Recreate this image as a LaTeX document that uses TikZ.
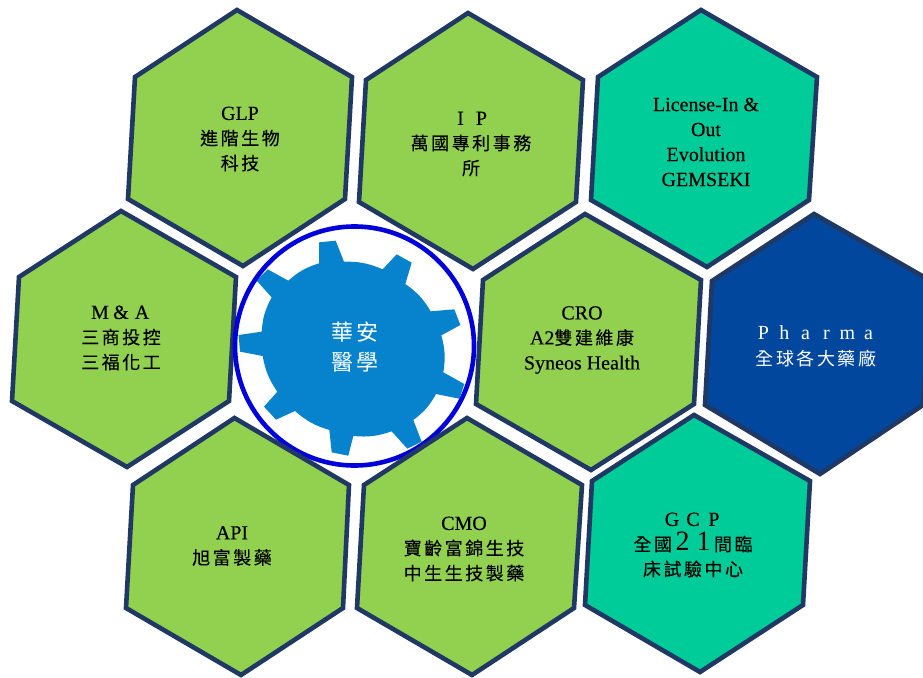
\documentclass[tikz,border=0pt]{standalone}
\usepackage{fontspec}
\setmainfont{Liberation Serif}[FakeBold=0.25]
\newfontfamily\lightmain{Liberation Serif}
\newfontfamily\cjkfont{Noto Sans CJK TC}[LetterSpace=14,FakeBold=0.2]
\newfontfamily\cjklight{Noto Sans CJK TC}[LetterSpace=14]
\newfontfamily\cjkbig{Noto Sans CJK TC}[LetterSpace=18]
\newcommand{\zh}[1]{{\fontsize{18}{25}\selectfont\cjkfont #1}}
\newcommand{\zhl}[1]{{\fontsize{18}{25}\selectfont\cjklight #1}}
\newcommand{\fw}[1]{\makebox[21pt]{#1}}
\newcommand{\bigfw}[1]{\makebox[21pt]{\fontsize{28}{25}\selectfont\lightmain #1}}
\definecolor{hexgreen}{HTML}{92D050}
\definecolor{hexteal}{HTML}{00CC99}
\definecolor{hexblue}{HTML}{00479D}
\definecolor{hexline}{HTML}{1F3864}
\definecolor{gearblue}{HTML}{0783CE}
\definecolor{ringblue}{HTML}{0000DC}
\tikzset{
  hexcell/.style={draw=hexline,line width=4.6pt,line join=miter,miter limit=10},
  greencell/.style={hexcell,fill=hexgreen},
  tealcell/.style={hexcell,fill=hexteal},
  bluecell/.style={hexcell,fill=hexblue},
  celltext/.style={align=center,inner sep=0pt,text=black,font=\fontsize{20}{25}\selectfont},
  lighttext/.style={align=center,inner sep=0pt,text=white,font=\fontsize{20}{25}\selectfont\lightmain}
}
\begin{document}
\begin{tikzpicture}[x=1pt,y=-1pt]
\useasboundingbox (0,0) rectangle (923,677);
\clip (0,0) rectangle (923,677);
\fill[white] (0,0) rectangle (923,677);
% upper and side cells
\draw[greencell] (237,10)--(352,77)--(345,199)--(243,266)--(128,199)--(135,77)--cycle;
\draw[greencell] (468,13)--(583,80)--(576,202)--(473,269)--(359,202)--(366,80)--cycle;
\draw[tealcell] (701,10)--(817,77)--(809,200)--(707,267)--(591,200)--(598,77)--cycle;
\draw[greencell] (121,211)--(236,277)--(229,401)--(127,467)--(12,401)--(19,277)--cycle;
\draw[greencell] (585,214)--(701,280)--(694,404)--(591,470)--(476,404)--(483,280)--cycle;
\draw[bluecell] (814,214)--(931,281)--(923,405)--(820,474)--(705,405)--(712,281)--cycle;
% gear
\begin{scope}[shift={(220,210)},x=0.33333pt,y=-0.33333pt]
\fill[gearblue] (297,97)--(347,92)--(372,155) to[bend left=12] (488,178)
 --(530,133)--(575,158)--(556,222) to[bend left=12] (632,304)
 --(703,298)--(721,345)--(664,376) to[bend left=12] (670,487)
 --(733,522)--(718,566)--(648,552) to[bend left=12] (580,630)
 --(605,695)--(562,716)--(515,664) to[bend left=12] (400,678)
 --(385,737)--(335,727)--(328,660) to[bend left=12] (225,603)
 --(168,629)--(132,590)--(172,545) to[bend left=12] (128,438)
 --(60,425)--(56,375)--(125,365) to[bend left=12] (155,262)
 --(110,212)--(143,178)--(205,212) to[bend left=12] (297,160)--cycle;
\end{scope}
% ring
\draw[ringblue,line width=4.6pt] (354.5,346) circle[radius=119.5];
% lower cells
\draw[greencell] (234.5,418)--(349,485)--(343,608)--(241,675)--(126,608)--(133,485)--cycle;
\draw[greencell] (467,418)--(582,485)--(574,608)--(472,675)--(357,608)--(364,485)--cycle;
\draw[tealcell] (694,415)--(810,481)--(803,605)--(700,672)--(585,605)--(592,481)--cycle;
% labels
\node[celltext] (glp) at (240,139) {GLP\\\zh{進階生物}\\\zh{科技}};
\node[celltext] (ip) at (471,144) {\fw{I}\fw{P}\\\zh{萬國專利事務}\\\zh{所}};
\node[celltext] (lic) at (706,142) {License-In \&\\Out\\Evolution\\GEMSEKI};
\node[celltext] (ma) at (121,338) {\fw{M}\fw{\&}\fw{A}\\\zh{三商投控}\\\zh{三福化工}};
\node[celltext] (cro) at (582,340) {CRO\\A2\zh{雙建維康}\\Syneos Health};
\node[lighttext] (pharma) at (816,346) {\fw{P}\fw{h}\fw{a}\fw{r}\fw{m}\fw{a}\\[1pt]\zhl{全球各大藥廠}};
\node[celltext] (api) at (232,546) {API\\\zh{旭富製藥}};
\node[celltext] (cmo) at (464,549) {CMO\\\zh{寶齡富錦生技}\\\zh{中生生技製藥}};
\node[celltext] (gcp) at (693,545) {\fw{G}\fw{C}\fw{P}\\\zh{全國}\bigfw{2}\bigfw{1}\zh{間臨}\\\zh{床試驗中心}};
\node[lighttext,font=\fontsize{22}{30}\selectfont\cjkbig] (hub) at (355,347) {華安\\醫學};
\end{tikzpicture}
\end{document}
